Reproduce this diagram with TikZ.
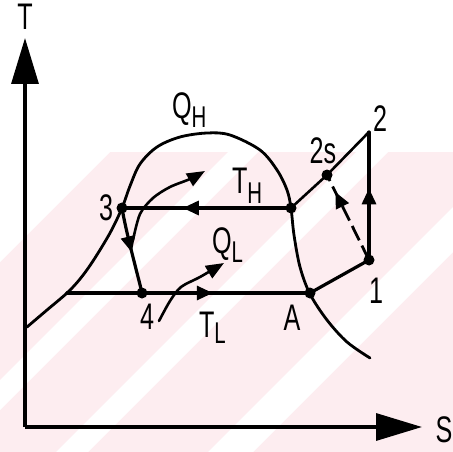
\documentclass[tikz,border=0pt]{standalone}
\usepackage{fontspec}
\setmainfont{Liberation Sans}
\newfontfamily\lblfont[FakeStretch=0.68]{Liberation Sans}
\usetikzlibrary{arrows.meta,decorations.markings}
\definecolor{wm}{RGB}{253,237,240}
\newcommand\lsub[2]{\raisebox{-#1pt}{\fontsize{30}{30}\selectfont #2}}
\begin{document}
\begin{tikzpicture}[x=1pt,y=-1pt,
  lbl/.style={inner sep=0pt, outer sep=0pt, font=\lblfont\fontsize{37}{37}\selectfont},
  dot/.style={circle, fill=black, inner sep=0pt, minimum size=11pt},
  cyc/.style={line width=3.2pt, line cap=round, line join=round},
  dome/.style={line width=2.8pt, line cap=round},
  heat/.style={line width=2.6pt, line cap=round, -{Triangle[length=18pt,width=14pt]}},
  axisline/.style={line width=3.3pt, -{Triangle[length=46pt,width=27pt]}},
  midarrow/.style={postaction={decorate}, decoration={markings,
      mark=at position #1 with {\arrow{Triangle[length=16pt,width=14pt]}}}}
]
% background with faint watermark
\useasboundingbox (0,0) rectangle (453,452);
\fill[white] (0,0) rectangle (453,452);
\fill[wm] (0,152) rectangle (453,452);
\begin{scope}
  \clip (0,152) rectangle (453,452);
  \fill[white] (0,152) -- (110,152) -- (0,262) -- cycle;
  \fill[white] (228,152) -- (258,152) -- (-42,452) -- (-72,452) -- cycle;
  \fill[white] (356,152) -- (388,152) -- (88,452) -- (56,452) -- cycle;
  \fill[white] (508,152) -- (553,152) -- (253,452) -- (208,452) -- cycle;
\end{scope}

% axes
\coordinate (o) at (25,427);
\coordinate (ty) at (25,38);
\coordinate (sx) at (422,427);
\draw[axisline] (o) -- (ty);
\draw[axisline] (o) -- (sx);
\node[lbl] (tlab) at (25,17) {T};
\node[lbl] (slab) at (444,430) {S};

% saturation dome
\draw[dome] plot[smooth, tension=0.55] coordinates {
  (27,327) (47,310) (67,293) (80,279) (93,261) (110,233) (122,208)
  (130,186) (140,164) (157,147) (180,137) (207,133) (230,135) (260,150)
  (277,170) (287,190) (291,208) (294,235) (300,267) (310,294) (327,320)
  (347,342) (370,358)};

% state points
\node[dot] (p3) at (122,208) {};
\node[dot] (pB) at (291,208) {};
\node[dot] (p2s) at (327,175) {};
\coordinate (p2) at (369,132);
\node[dot] (p1) at (369,260) {};
\node[dot] (pA) at (310,293) {};
\node[dot] (p4) at (142,293) {};
\coordinate (pL) at (67,293);

% cycle lines
\draw[cyc, midarrow=0.64] (pB.center) -- (p3.center);
\draw[cyc, midarrow=0.6] (pL) -- (pA.center);
\draw[line width=2.6pt, line join=round] (pB.center) -- (p2s.center) -- (p2);
\draw[cyc, midarrow=0.56] (p1.center) -- (p2);
\draw[cyc] (p1.center) -- (pA.center);
\draw[cyc, midarrow=0.52] (p3.center) .. controls (126,232) and (136,268) .. (p4.center);
\draw[line width=2.8pt, dash pattern=on 16pt off 6pt, midarrow=0.8] (p1.center) -- (p2s.center);

% heat arrows
\draw[heat] plot[smooth] coordinates {(133,240) (140,214) (153,198) (170,187) (190,179) (205,171)};
\draw[heat] plot[smooth] coordinates {(159,321) (170,301) (181,287) (200,277) (224,263)};

% labels
\node[lbl, anchor=base west] (qh) at (172,119) {Q\lsub{9}{H}};
\node[lbl, anchor=base west] (th) at (232,193) {T\lsub{10}{H}};
\node[lbl, anchor=base west] (ql) at (212,253) {Q\lsub{9}{L}};
\node[lbl, anchor=base west] (tl) at (199,337) {T\lsub{6}{L}};
\node[lbl] (l3) at (106,208) {3};
\node[lbl] (l4) at (147,317) {4};
\node[lbl] (lA) at (292,318) {A};
\node[lbl] (l1) at (376,291) {1};
\node[lbl] (l2) at (380,119) {2};
\node[lbl] (l2s) at (323,151) {2s};
\end{tikzpicture}
\end{document}
